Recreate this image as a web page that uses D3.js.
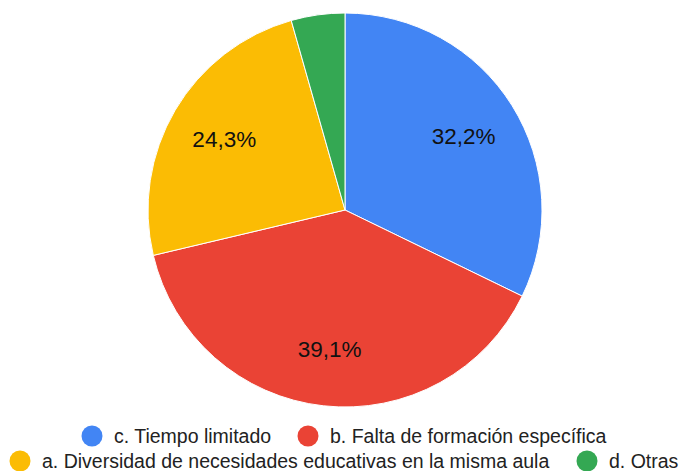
<!DOCTYPE html>
<html>
<head>
<meta charset="utf-8">
<script src="https://cdn.jsdelivr.net/npm/d3@7"></script>
<style>
  html, body { margin: 0; padding: 0; background: #fff; }
  svg { display: block; font-family: "Liberation Sans", Arial, sans-serif; }
</style>
</head>
<body>
<svg id="chart" width="683" height="471"></svg>
<script>
const categories = ["c. Tiempo limitado", "b. Falta de formación específica", "a. Diversidad de necesidades educativas en la misma aula", "d. Otras"];
const values = [32.2, 39.1, 24.3, 4.4];
const colors = ["#4285F4", "#EA4335", "#FBBC04", "#34A853"];
const labelTexts = ["32,2%", "39,1%", "24,3%", ""];

const svg = d3.select("#chart");
const cx = 345, cy = 210, r = 197;

const data = categories.map((c, i) => ({ name: c, value: values[i], color: colors[i], label: labelTexts[i] }));

const pie = d3.pie().sort(null).value(d => d.value);
const arcs = pie(data);
const arc = d3.arc().innerRadius(0).outerRadius(r);
const labelArc = d3.arc().innerRadius(140).outerRadius(140);

const g = svg.append("g").attr("transform", `translate(${cx},${cy})`);
g.selectAll("path").data(arcs).join("path")
  .attr("d", arc)
  .attr("fill", d => d.data.color)
  .attr("stroke", "#fff")
  .attr("stroke-width", 1);

g.selectAll("text.lbl").data(arcs.filter(d => d.data.label)).join("text")
  .attr("class", "lbl")
  .attr("transform", d => `translate(${labelArc.centroid(d)})`)
  .attr("text-anchor", "middle")
  .attr("dy", "0.35em")
  .attr("font-size", 22.5)
  .attr("fill", "#111")
  .text(d => d.data.label);

// Legend
const rows = [
  [{ i: 0, x: 92 }, { i: 1, x: 308 }],
  [{ i: 2, x: 20 }, { i: 3, x: 587 }]
];
const rowY = [436, 461];
rows.forEach((row, ri) => {
  row.forEach(item => {
    const lg = svg.append("g").attr("transform", `translate(${item.x},${rowY[ri]})`);
    lg.append("circle").attr("r", 10.5).attr("fill", colors[item.i]);
    lg.append("text")
      .attr("x", 22)
      .attr("dy", "0.35em")
      .attr("font-size", 19.5)
      .attr("fill", "#222")
      .text(categories[item.i]);
  });
});
</script>
</body>
</html>
